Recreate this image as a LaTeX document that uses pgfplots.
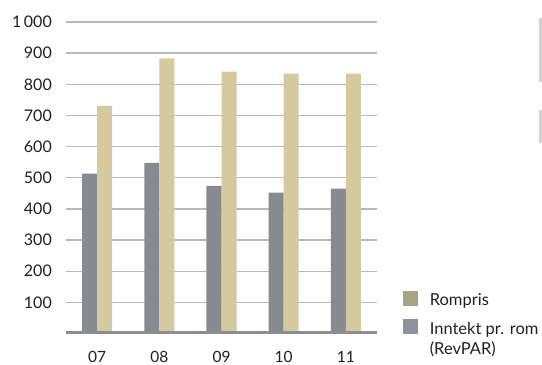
\documentclass[border=0pt]{standalone}
\usepackage{pgfplots}
\pgfplotsset{compat=1.18}
\usepackage{fontspec}
\setmainfont{Lato}

\definecolor{barGray}{HTML}{878A91}
\definecolor{barBeige}{HTML}{D5CA9F}
\definecolor{legOlive}{HTML}{A7A57F}
\definecolor{legGray}{HTML}{8E929B}
\definecolor{gridGray}{HTML}{B9B9BC}
\definecolor{baseGray}{HTML}{8B8D93}
\definecolor{txt}{HTML}{231F20}
\definecolor{sideGray}{HTML}{D2D2D4}

\begin{document}
\begin{tikzpicture}
\useasboundingbox (-66bp,-31.5bp) rectangle (476bp,333.5bp);
\begin{axis}[
  at={(0,0)}, anchor=south west,
  scale only axis,
  width=311bp, height=311.5bp,
  xmin=-0.5, xmax=4.5,
  ymin=0, ymax=1000,
  axis line style={draw=none},
  tick style={draw=none},
  xtick={0,1,2,3,4},
  xticklabels={07,08,09,10,11},
  ytick={100,200,...,1000},
  yticklabels={100,200,300,400,500,600,700,800,900,1\,000},
  ymajorgrids,
  grid style={color=gridGray, line width=1.3bp},
  ticklabel style={font=\fontsize{16bp}{19bp}\selectfont, text=txt},
  yticklabel style={anchor=east, inner sep=0pt, xshift=-14bp},
  xticklabel style={anchor=north, inner sep=0pt, yshift=-18bp, font=\fontsize{15.5bp}{18bp}\selectfont},
  /pgf/number format/assume math mode=true,
  legend style={
    at={(axis description cs:1.0846,0.1374)}, anchor=north west,
    draw=none, fill=none, inner sep=0pt, outer sep=0pt,
    column sep=11.5bp, row sep=12bp,
    nodes={inner sep=0pt, anchor=base west, text=txt,
      font=\fontsize{16.5bp}{20bp}\selectfont},
  },
  legend image code/.code={\fill[#1] (0bp,0bp) rectangle (15bp,15bp);},
]
% revenue per room (grey) and room rate (beige)
\addplot[ybar, bar width=15bp, bar shift=-7.5bp, fill=barGray, draw=none, forget plot]
  coordinates {(0,513) (1,548) (2,474) (3,452) (4,465)};
\addplot[ybar, bar width=15bp, bar shift=7.5bp, fill=barBeige, draw=none, forget plot]
  coordinates {(0,731) (1,883) (2,841) (3,834) (4,834)};
% base line across the bottom
\draw[baseGray, line width=4bp] (rel axis cs:0,0) -- (rel axis cs:1,0);
\addlegendimage{fill=legOlive, draw=none}
\addlegendentry{Rompris}
\addlegendimage{fill=legGray, draw=none}
\addlegendentry{\vtop{\hbox{Inntekt pr. rom}\hbox{(RevPAR)}}}
\end{axis}
% side rules at the right edge
\fill[sideGray] (473bp,251.5bp) rectangle (475.5bp,315.5bp);
\fill[sideGray] (473bp,190.5bp) rectangle (475.5bp,223.5bp);
\end{tikzpicture}
\end{document}
